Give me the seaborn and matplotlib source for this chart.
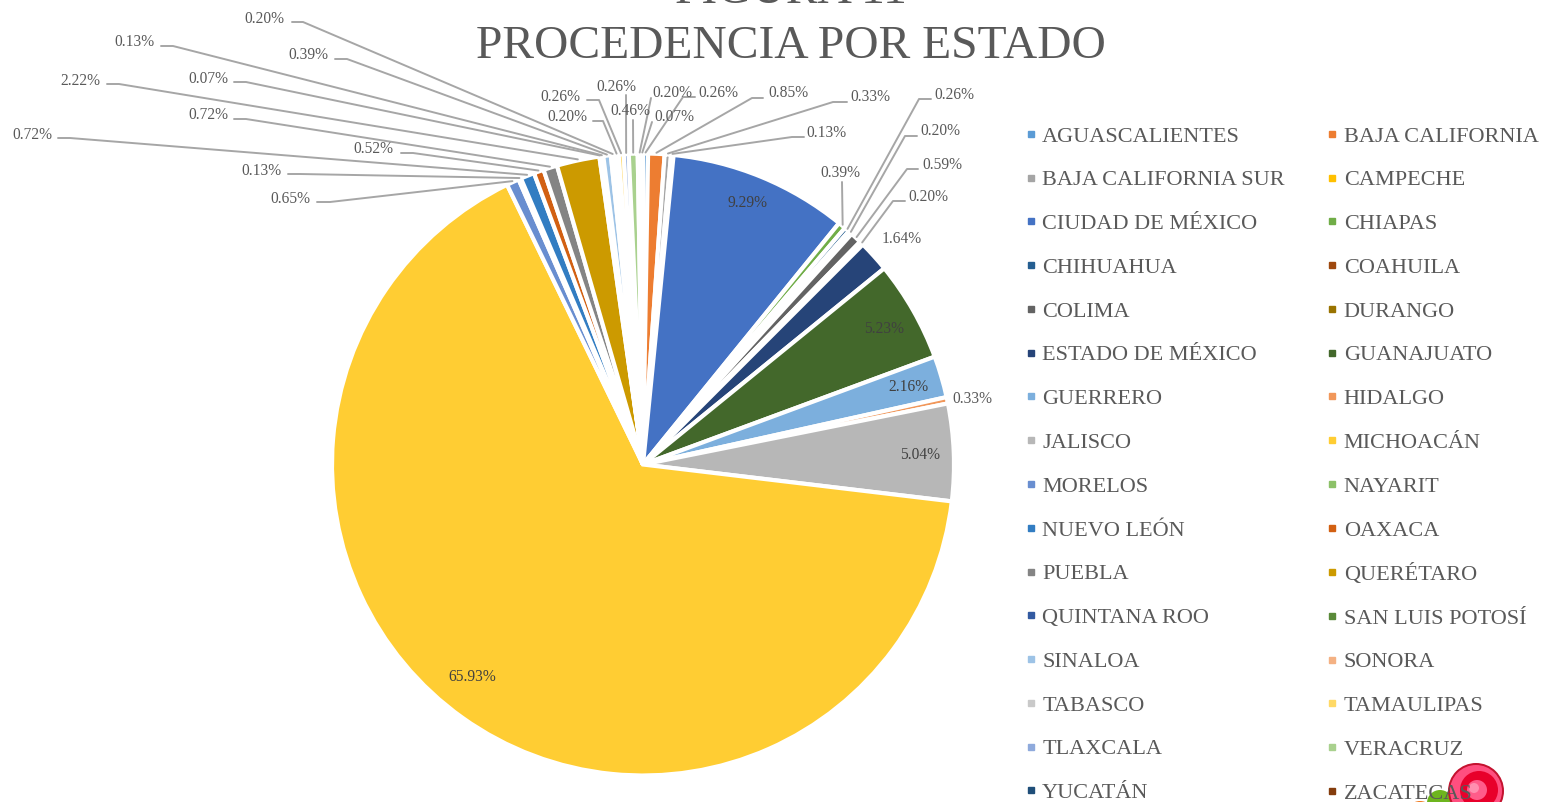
import matplotlib
matplotlib.use("Agg")
import matplotlib.pyplot as plt
from matplotlib.lines import Line2D
from matplotlib.patches import Circle
import numpy as np
import seaborn as sns

W, H = 1541, 802

estados = ["AGUASCALIENTES", "BAJA CALIFORNIA", "BAJA CALIFORNIA SUR", "CAMPECHE",
           "CIUDAD DE MÉXICO", "CHIAPAS", "CHIHUAHUA", "COAHUILA", "COLIMA", "DURANGO",
           "ESTADO DE MÉXICO", "GUANAJUATO", "GUERRERO", "HIDALGO", "JALISCO", "MICHOACÁN",
           "MORELOS", "NAYARIT", "NUEVO LEÓN", "OAXACA", "PUEBLA", "QUERÉTARO",
           "QUINTANA ROO", "SAN LUIS POTOSÍ", "SINALOA", "SONORA", "TABASCO", "TAMAULIPAS",
           "TLAXCALA", "VERACRUZ", "YUCATÁN", "ZACATECAS"]
porcentajes = [0.26, 0.85, 0.33, 0.13, 9.29, 0.39, 0.26, 0.20, 0.59, 0.20,
               1.64, 5.23, 2.16, 0.33, 5.04, 65.93, 0.65, 0.13, 0.72, 0.52,
               0.72, 2.22, 0.07, 0.13, 0.39, 0.20, 0.20, 0.26, 0.26, 0.46,
               0.20, 0.07]
colores = ["#5B9BD5", "#ED7D31", "#A5A5A5", "#FFC000", "#4472C4", "#70AD47", "#255E91", "#9E480E",
           "#636363", "#997300", "#264478", "#43682B", "#7CAFDD", "#F1975A", "#B7B7B7", "#FFCD33",
           "#698ED0", "#8CC168", "#327DC2", "#D26012", "#848484", "#CC9A00", "#335AA1", "#5A8A39",
           "#9DC3E6", "#F4B183", "#C9C9C9", "#FFD966", "#8FAADC", "#A9D18E", "#1F4E79", "#843C0C"]

# posicion de cada etiqueta en pixeles (centro del texto), mismo orden que estados
etiqueta_xy = [(718, 93), (788, 93), (870, 97), (826, 133), (748, 203), (840, 173), (954, 95), (940, 131),
               (942, 165), (928, 197), (902, 239), (884, 329), (908, 387), (972, 399), (920, 455), (472, 677),
               (290, 199), (261, 171), (32, 135), (373, 149), (208, 115), (80, 81),
               (208, 79), (134, 42), (308, 55), (264, 19), (567, 117), (560, 97),
               (616, 87), (630, 111), (672, 93), (674, 117)]
# inicio de la linea guia (pixeles), None = sin linea; tramo horizontal = ancho del stub
guia_inicio = [(695, 97), (763, 98), (847, 102), (804, 137), None, (842, 182), (931, 99), (917, 136),
               (918, 169), (905, 201), None, None, None, None, None, None,
               (317, 202), (288, 174), (58, 138), (401, 153), (234, 119), (107, 84),
               (234, 82), (161, 46), (335, 59), (292, 22), (593, 121), (587, 100),
               (626, 95), (633, 120), (651, 98), (652, 122)]
guia_stub = [-12, -11, -14, -12, 0, 0, -12, -12,
             -11, -12, 0, 0, 0, 0, 0, 0,
             13, 12, 12, 12, 12, 12,
             12, 12, 12, 11, 10, 12,
             0, 0, 0, 0]
# etiquetas con texto oscuro (dentro de la rebanada)
dentro = ["CIUDAD DE MÉXICO", "GUANAJUATO", "GUERRERO", "JALISCO", "MICHOACÁN"]

sns.set_theme(style="white")
plt.rcParams["font.family"] = ["Liberation Serif", "DejaVu Serif"]
palette = sns.color_palette(colores)

fig = plt.figure(figsize=(W / 100, H / 100), dpi=100)
ax = fig.add_axes([0, 0, 1, 1])


def py(y):
    # coordenada y de la imagen (hacia abajo) a la de los ejes
    return H - y


centro = (643, py(464.5))
radio = 311
wedges, _ = ax.pie(porcentajes, colors=palette, startangle=90, counterclock=False,
                   center=centro, radius=radio,
                   wedgeprops=dict(edgecolor="white", linewidth=3))
ax.set_xlim(0, W)
ax.set_ylim(0, H)
ax.set_aspect("equal")
ax.axis("off")

# etiquetas y lineas guia
for i, w in enumerate(wedges):
    x, y = etiqueta_xy[i]
    color = "#404040" if estados[i] in dentro else "#595959"
    ax.text(x, py(y), f"{porcentajes[i]:.2f}%", ha="center", va="center", fontsize=11.2, color=color, zorder=6)
    if guia_inicio[i] is None:
        continue
    ang = np.deg2rad((w.theta1 + w.theta2) / 2)
    xf = centro[0] + (radio + 1) * np.cos(ang)
    yf = centro[1] + (radio + 1) * np.sin(ang)
    x0, y0 = guia_inicio[i]
    ax.plot([x0, x0 + guia_stub[i], xf], [py(y0), py(y0), yf], color="#A6A6A6", lw=1.4, zorder=1,
            solid_joinstyle="round")

# titulo (la primera linea queda cortada por el borde)
ax.text(791, py(3), "FIGURA 11", ha="center", va="baseline", fontsize=34.2, color="#595959")
ax.text(791, py(57.5), "PROCEDENCIA POR ESTADO", ha="center", va="baseline", fontsize=34.2, color="#595959")

# calcomania de la esquina, debajo de la leyenda
for (cx, cy, r, c) in [(1420, 815, 14, "#F07A20"), (1440, 803, 13, "#6DB51E"),
                       (1476, 791, 28, "#C4122F"), (1476, 791, 26, "#FF4F7F"),
                       (1479, 790, 19, "#E8002B"), (1477, 790, 10, "#FF5C8A"),
                       (1474, 788, 5, "#FF8FB0")]:
    ax.add_patch(Circle((cx, py(cy)), r, color=c, lw=0, zorder=2))

# leyenda en dos columnas, llenada por filas
handles = [Line2D([], [], linestyle="none", marker="s", markersize=5, color=c) for c in palette]
orden = list(range(0, 32, 2)) + list(range(1, 32, 2))
leg = ax.legend([handles[i] for i in orden], [estados[i] for i in orden], ncol=2, frameon=False,
                loc="upper left", bbox_to_anchor=(1024, py(126)), bbox_transform=ax.transData,
                fontsize=16, labelcolor="#595959", labelspacing=1.045, columnspacing=1.83,
                handlelength=0.6, handletextpad=0.22, borderpad=0, borderaxespad=0)
leg.set_zorder(5)

fig.savefig("out.png", dpi=100)
